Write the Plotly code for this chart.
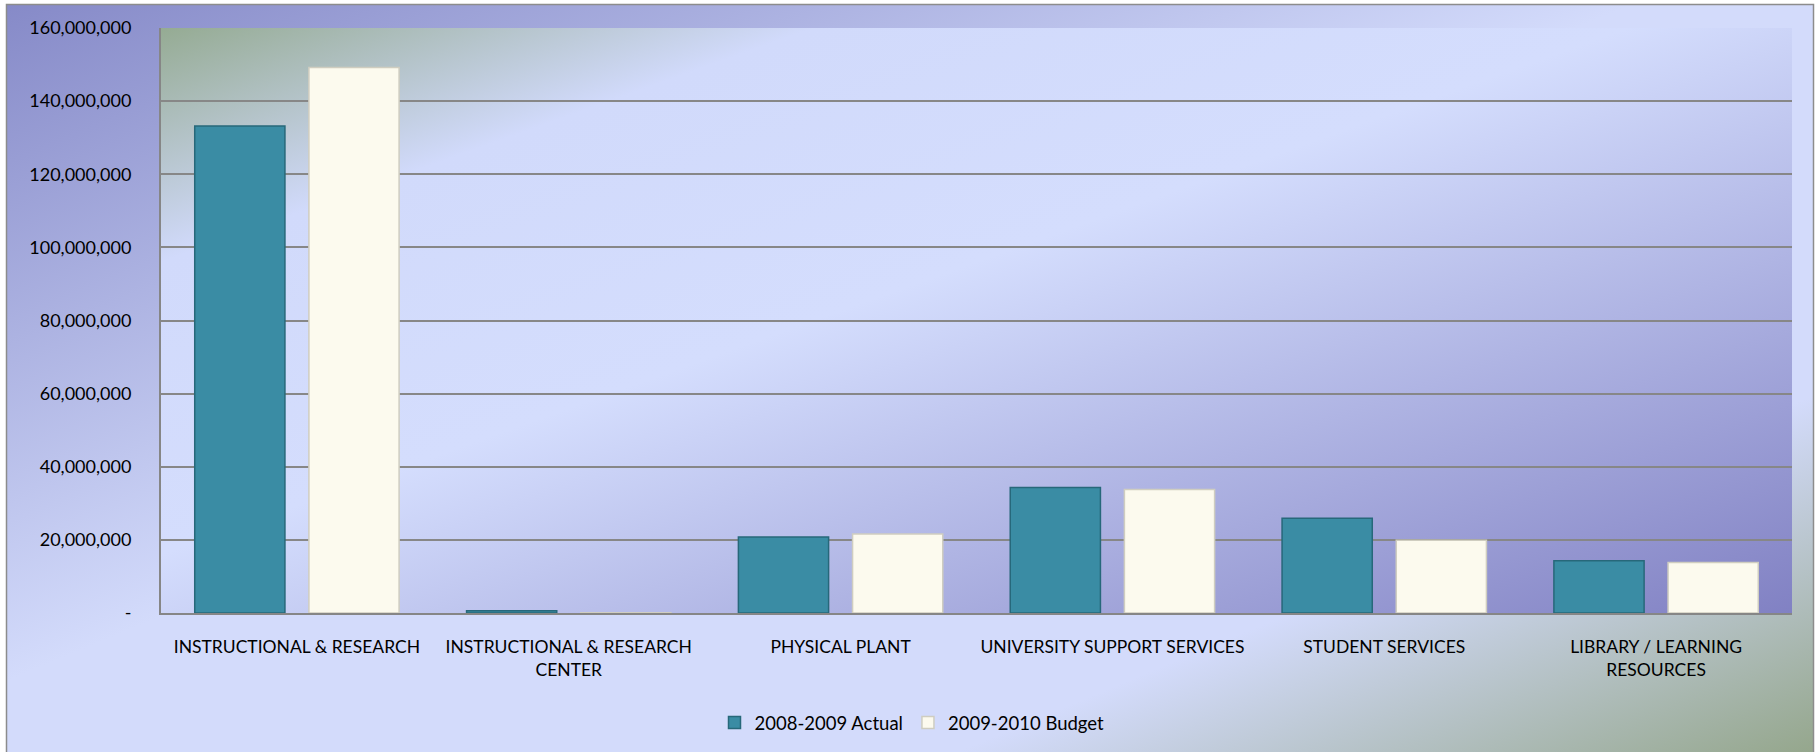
import plotly.graph_objects as go
import urllib.parse

categories = [
    "INSTRUCTIONAL & RESEARCH",
    "INSTRUCTIONAL & RESEARCH<br>CENTER",
    "PHYSICAL PLANT",
    "UNIVERSITY SUPPORT SERVICES",
    "STUDENT SERVICES",
    "LIBRARY / LEARNING<br>RESOURCES",
]
actual_2008_2009 = [133200000, 600000, 20800000, 34300000, 25900000, 14300000]
budget_2009_2010 = [149200000, 80000, 21600000, 33800000, 19900000, 13800000]
series_names = ["2008-2009 Actual", "2009-2010 Budget"]
y_tick_values = [0, 20000000, 40000000, 60000000, 80000000, 100000000, 120000000, 140000000, 160000000]
y_tick_labels = ["-", "20,000,000", "40,000,000", "60,000,000", "80,000,000", "100,000,000",
                 "120,000,000", "140,000,000", "160,000,000"]

W, H = 1816, 752
ML, MR, MT, MB = 161, 24, 28, 139
PW, PH = W - ML - MR, H - MT - MB

svg = f'''<svg xmlns="http://www.w3.org/2000/svg" width="{W}" height="{H}" viewBox="0 0 {W} {H}" preserveAspectRatio="none">
<defs>
<linearGradient id="outer" x1="0" y1="0" x2="1" y2="1">
<stop offset="0" stop-color="#868ac8"/>
<stop offset="0.45" stop-color="#d3dbfb"/>
<stop offset="0.76" stop-color="#d3dbfb"/>
<stop offset="1" stop-color="#94a68b"/>
</linearGradient>
<linearGradient id="inner" x1="0" y1="0" x2="1" y2="1">
<stop offset="0" stop-color="#95ab93"/>
<stop offset="0.2" stop-color="#d1dafb"/>
<stop offset="0.45" stop-color="#d4ddfd"/>
<stop offset="1" stop-color="#8181c3"/>
</linearGradient>
</defs>
<rect x="0" y="0" width="{W}" height="{H}" fill="#ffffff"/>
<rect x="6.5" y="4.5" width="{W-9}" height="{H}" fill="url(#outer)" stroke="#8c8c8c" stroke-width="1.5"/>
<rect x="{ML}" y="{MT}" width="{PW}" height="{PH}" fill="url(#inner)"/>
</svg>'''
svg_uri = "data:image/svg+xml;charset=utf-8," + urllib.parse.quote(svg)

fig = go.Figure()
fig.add_trace(go.Bar(
    x=categories, y=actual_2008_2009, name=series_names[0],
    marker=dict(color="#3a8ca4", line=dict(color="#27687a", width=1.5)),
))
fig.add_trace(go.Bar(
    x=categories, y=budget_2009_2010, name=series_names[1],
    marker=dict(color="#fcfaee", line=dict(color="#cfcdc0", width=1.5)),
))

font_family = "Lato, 'Open Sans', sans-serif"
fig.update_layout(
    width=W, height=H,
    margin=dict(l=ML, r=MR, t=MT, b=MB, pad=0, autoexpand=False),
    paper_bgcolor="rgba(0,0,0,0)",
    plot_bgcolor="rgba(0,0,0,0)",
    barmode="group",
    bargap=0.16,
    bargroupgap=0.21,
    font=dict(family=font_family, size=17, color="#000000"),
    images=[dict(
        source=svg_uri, xref="paper", yref="paper",
        x=-ML / PW, y=1 + MT / PH, sizex=W / PW, sizey=H / PH,
        xanchor="left", yanchor="top", sizing="stretch", layer="below",
    )],
    legend=dict(
        orientation="h", x=(912 - ML) / PW, xanchor="center",
        y=-(723 - (MT + PH)) / PH, yanchor="middle",
        bgcolor="rgba(0,0,0,0)", font=dict(size=18.5), itemwidth=30,
    ),
    showlegend=True,
)
fig.update_xaxes(
    showline=True, linecolor="#868686", linewidth=2,
    showgrid=False, ticks="", ticklabelstandoff=17,
    tickfont=dict(size=17.5),
)
fig.update_yaxes(
    range=[0, 160000000], tickvals=y_tick_values, ticktext=y_tick_labels,
    showgrid=True, gridcolor="#878787", gridwidth=1.5,
    showline=True, linecolor="#868686", linewidth=2,
    zeroline=False, ticks="", ticklabelstandoff=24,
    tickfont=dict(size=18),
)

fig.write_html(
    "out.html",
    config={"displayModeBar": False},
    post_script="document.body.style.margin='0';document.body.style.overflow='hidden';",
)
